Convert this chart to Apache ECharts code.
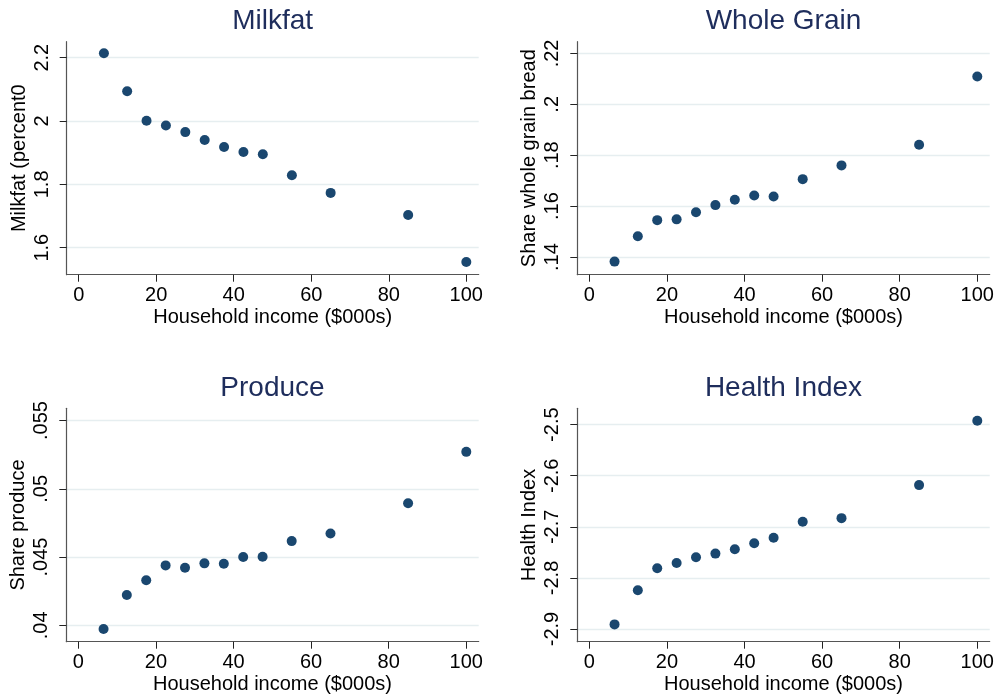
<!DOCTYPE html>
<html>
<head>
<meta charset="utf-8">
<script src="https://cdn.jsdelivr.net/npm/echarts@6/dist/echarts.min.js"></script>
<style>html,body{margin:0;padding:0;background:#fff}#c{width:997px;height:698px}</style>
</head>
<body>
<div id="c"></div>
<script>
// ---- data ----
const income = [6.5, 12.5, 17.5, 22.5, 27.5, 32.5, 37.5, 42.5, 47.5, 55, 65, 85, 100];
const milkfat = [2.214, 2.094, 2.001, 1.986, 1.965, 1.940, 1.918, 1.902, 1.895, 1.829, 1.773, 1.703, 1.555];
const wholeGrain = [0.1382, 0.1482, 0.1545, 0.1548, 0.1576, 0.1604, 0.1625, 0.1642, 0.1638, 0.1706, 0.1760, 0.1841, 0.2109];
const produce = [0.03973, 0.04222, 0.04330, 0.04439, 0.04422, 0.04454, 0.04451, 0.04500, 0.04502, 0.04617, 0.04673, 0.04895, 0.05271];
const health = [-2.8909, -2.8241, -2.7811, -2.7707, -2.7596, -2.7524, -2.7439, -2.7320, -2.7215, -2.6902, -2.6830, -2.6183, -2.4922];

const titles = ['Milkfat', 'Whole Grain', 'Produce', 'Health Index'];
const yNames = ['Milkfat (percent0', 'Share whole grain bread', 'Share produce', 'Health Index'];
const xName = 'Household income ($000s)';

const xTicks = [0, 20, 40, 60, 80, 100];
const xTickLabels = ['0', '20', '40', '60', '80', '100'];
const milkfatTicks = [1.6, 1.8, 2.0, 2.2];
const milkfatTickLabels = ['1.6', '1.8', '2', '2.2'];
const wholeGrainTicks = [0.14, 0.16, 0.18, 0.2, 0.22];
const wholeGrainTickLabels = ['.14', '.16', '.18', '.2', '.22'];
const produceTicks = [0.04, 0.045, 0.05, 0.055];
const produceTickLabels = ['.04', '.045', '.05', '.055'];
const healthTicks = [-2.9, -2.8, -2.7, -2.6, -2.5];
const healthTickLabels = ['-2.9', '-2.8', '-2.7', '-2.6', '-2.5'];

// ---- layout / style ----
const FONT = '"Liberation Sans", Arial, Helvetica, sans-serif';
const grids = [
  {left: 66.7, top: 41.7, width: 412, height: 233},
  {left: 577.3, top: 41.7, width: 412.4, height: 233},
  {left: 66.3, top: 408.3, width: 412.4, height: 233.4},
  {left: 577.3, top: 408.3, width: 412.4, height: 233.4}
];
const titleTops = [7, 7, 374, 374];
const yRanges = [[1.5147, 2.2505], [0.13306, 0.2246], [0.0388, 0.0559], [-2.9248, -2.468]];
const xRange = [-3.1, 103.2];
const seriesData = [milkfat, wholeGrain, produce, health];
const yTickSets = [milkfatTicks, wholeGrainTicks, produceTicks, healthTicks];
const yLabelSets = [milkfatTickLabels, wholeGrainTickLabels, produceTickLabels, healthTickLabels];

function lookup(ticks, labels) {
  return function (v) {
    for (let i = 0; i < ticks.length; i++) {
      if (Math.abs(ticks[i] - v) < 1e-9 * Math.max(1, Math.abs(v)) + 1e-9) return labels[i];
    }
    return '';
  };
}

const axisLineStyle = {show: true, onZero: false, lineStyle: {color: '#555', width: 1.2}};
const tickStyle = {show: true, length: 7, lineStyle: {color: '#222', width: 1}};

const option = {
  backgroundColor: '#fff',
  animation: false,
  title: [], grid: [], xAxis: [], yAxis: [], series: []
};

for (let i = 0; i < 4; i++) {
  const g = grids[i];
  option.grid.push({left: g.left, top: g.top, width: g.width, height: g.height, containLabel: false});
  option.title.push({
    text: titles[i], left: g.left + g.width / 2, top: titleTops[i], padding: 0,
    textAlign: 'center', textVerticalAlign: 'top',
    textStyle: {fontFamily: FONT, fontSize: 28, fontWeight: 'normal', color: '#1e2d5c'}
  });
  option.xAxis.push({
    type: 'value', gridIndex: i, min: xRange[0], max: xRange[1],
    name: xName, nameLocation: 'middle', nameGap: 32.5,
    nameTextStyle: {fontFamily: FONT, fontSize: 20, color: '#000'},
    axisLine: axisLineStyle,
    axisTick: Object.assign({customValues: xTicks}, tickStyle),
    axisLabel: {customValues: xTicks, formatter: lookup(xTicks, xTickLabels), margin: 10.5,
      fontFamily: FONT, fontSize: 20, color: '#000', hideOverlap: false},
    splitLine: {show: false}
  });
  option.yAxis.push({
    type: 'value', gridIndex: i, min: yRanges[i][0], max: yRanges[i][1],
    name: yNames[i], nameLocation: 'middle', nameGap: 37.5,
    nameTextStyle: {fontFamily: FONT, fontSize: 20, color: '#000'},
    axisLine: axisLineStyle,
    axisTick: Object.assign({customValues: yTickSets[i]}, tickStyle),
    axisLabel: {customValues: yTickSets[i], formatter: lookup(yTickSets[i], yLabelSets[i]), margin: 14.5,
      rotate: 90, fontFamily: FONT, fontSize: 20, color: '#000', hideOverlap: false},
    splitLine: {show: true, lineStyle: {color: '#e6eef0', width: 1.3}}
  });
  option.series.push({
    type: 'scatter', xAxisIndex: i, yAxisIndex: i,
    symbol: 'circle', symbolSize: 10,
    itemStyle: {color: '#1a476f', opacity: 1},
    data: income.map((x, k) => [x, seriesData[i][k]])
  });
}

const chart = echarts.init(document.getElementById('c'), null, {renderer: 'canvas'});
chart.setOption(option);
</script>
</body>
</html>
